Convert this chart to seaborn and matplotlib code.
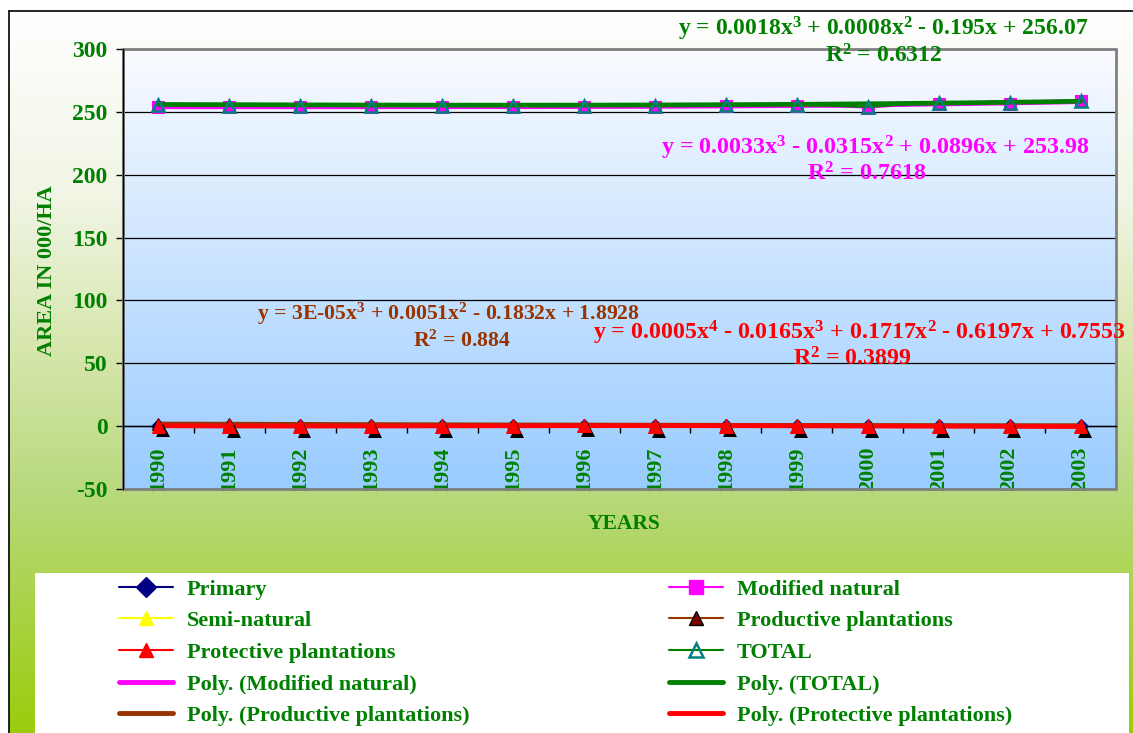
import numpy as np
import matplotlib
matplotlib.use("Agg")
import matplotlib.pyplot as plt
import matplotlib.patheffects as pe
from matplotlib.lines import Line2D
from matplotlib.patches import Rectangle
import seaborn as sns

# ---- data: forest area (000 ha) by category, 1990-2003 ----
years = [1990, 1991, 1992, 1993, 1994, 1995, 1996, 1997, 1998, 1999, 2000, 2001, 2002, 2003]
primary = [0.0, 0.0, 0.0, 0.0, 0.0, 0.0, 0.0, 0.0, 0.0, 0.0, 0.0, 0.0, 0.0, 0.0]
semi_natural = [0.0, 0.0, 0.0, 0.0, 0.0, 0.0, 0.0, 0.0, 0.0, 0.0, 0.0, 0.0, 0.0, 0.0]
modified_natural = [253.9, 254.0, 254.0, 254.0, 254.0, 254.1, 254.1, 254.2, 254.6, 254.8, 253.4, 256.6, 256.6, 258.3]
productive_plantations = [1.8, 1.5, 1.3, 1.1, 0.9, 0.8, 0.7, 0.6, 0.6, 0.5, 0.4, 0.5, 0.3, 0.4]
protective_plantations = [0.4, 0.0, 0.1, 0.0, 0.3, 0.2, 0.5, 0.3, 0.4, 0.1, 0.2, 0.1, -0.2, -0.2]
total = [255.4, 255.0, 254.8, 254.7, 254.6, 254.7, 254.8, 254.9, 255.2, 255.4, 253.8, 257.3, 256.9, 258.4]

# polynomial trendlines (highest power first) and their R^2
poly_modified = [0.0033, -0.0315, 0.0896, 253.98]
poly_total = [0.0018, 0.0008, -0.195, 256.07]
poly_productive = [3e-05, 0.0051, -0.1832, 1.8928]
poly_protective = [0.0005, -0.0165, 0.1717, -0.6197, 0.7553]
eq_modified = ["y = 0.0033x$^3$ - 0.0315x$^2$ + 0.0896x + 253.98", "R$^2$ = 0.7618"]
eq_total = ["y = 0.0018x$^3$ + 0.0008x$^2$ - 0.195x + 256.07", "R$^2$ = 0.6312"]
eq_productive = ["y = 3E-05x$^3$ + 0.0051x$^2$ - 0.1832x + 1.8928", "R$^2$ = 0.884"]
eq_protective = ["y = 0.0005x$^4$ - 0.0165x$^3$ + 0.1717x$^2$ - 0.6197x + 0.7553", "R$^2$ = 0.3899"]

GREEN = "#008000"
MAGENTA = "#FF00FF"
BROWN = "#993300"
RED = "#FF0000"
NAVY = "#000080"
YELLOW = "#FFFF00"
TEAL = "#008080"

sns.set_theme(style="white")
plt.rcParams["font.family"] = ["Liberation Serif", "DejaVu Serif"]
plt.rcParams["font.weight"] = "bold"
plt.rcParams["mathtext.default"] = "regular"
plt.rcParams["axes.unicode_minus"] = False

W, H = 1133, 733
fig = plt.figure(figsize=(W / 100, H / 100), dpi=100)
fig.patch.set_facecolor("white")


def fx(px):
    return px / W


def fy(py):
    return 1 - py / H


# ---- chart-area background (white to yellow-green) ----
bg = fig.add_axes([0, 0, 1, 1])
bg.set_zorder(-10)
bg.axis("off")
rows = np.arange(11, H + 1)
stops_y = [11, 200, 350, 490, 733]
stops_c = np.array([[255, 255, 255], [240, 245, 228], [214, 230, 172],
                    [185, 217, 126], [155, 204, 12]]) / 255.0
grad = np.stack([np.interp(rows, stops_y, stops_c[:, k]) for k in range(3)], axis=1)
bg.imshow(grad[:, None, :], extent=(9, W, H, 11), aspect="auto", interpolation="bilinear")
bg.plot([9, 9], [11, H], color="black", lw=1.2)
bg.plot([9, W], [11, 11], color="black", lw=1.2)
bg.add_patch(Rectangle((35, 573), 1129 - 35, H - 573, facecolor="white", edgecolor="none"))
bg.set_xlim(0, W)
bg.set_ylim(H, 0)

# ---- plot area ----
ax = fig.add_axes([fx(123), fy(489), (1116 - 123) / W, (489 - 49) / H])
pa = np.linspace(0, 1, 256)
top_c = np.array([250, 251, 255]) / 255.0
bot_c = np.array([153, 204, 255]) / 255.0
pgrad = top_c[None, :] * (1 - pa[:, None]) + bot_c[None, :] * pa[:, None]
ax.imshow(pgrad[:, None, :], extent=(0, 1, 0, 1), transform=ax.transAxes,
          aspect="auto", zorder=-1, interpolation="bilinear")

idx = np.arange(1, len(years) + 1)
xs = np.linspace(1, len(years), 400)

# zero-valued series underneath everything
sns.lineplot(x=idx, y=primary, ax=ax, color=NAVY, lw=1.2, marker="D", markersize=7,
             markerfacecolor=NAVY, markeredgecolor=NAVY, zorder=2.6)
sns.lineplot(x=idx, y=semi_natural, ax=ax, color=YELLOW, lw=1.2, marker="^", markersize=8,
             markerfacecolor=YELLOW, markeredgecolor=YELLOW, zorder=2.7)

# upper group: modified natural and total with their trendlines
sns.lineplot(x=xs, y=np.polyval(poly_modified, xs), ax=ax, color=MAGENTA, lw=3.4, zorder=4)
sns.lineplot(x=idx, y=modified_natural, ax=ax, color=MAGENTA, lw=1.2, marker="s", markersize=9,
             markerfacecolor=MAGENTA, markeredgecolor=MAGENTA, zorder=5)
sns.lineplot(x=xs, y=np.polyval(poly_total, xs), ax=ax, color=GREEN, lw=3.4, zorder=6)
sns.lineplot(x=idx, y=total, ax=ax, color=GREEN, lw=1.2, marker="^", markersize=9,
             markerfacecolor="none", markeredgecolor=TEAL, markeredgewidth=1.8, zorder=7)

# lower group: plantations with their trendlines
sns.lineplot(x=xs, y=np.polyval(poly_productive, xs), ax=ax, color=BROWN, lw=3.4, zorder=4)
sns.lineplot(x=idx, y=productive_plantations, ax=ax, color=BROWN, lw=1.2, marker="^", markersize=9,
             markerfacecolor="#800000", markeredgecolor="black", zorder=5)
sns.lineplot(x=idx, y=protective_plantations, ax=ax, color=RED, lw=1.2, zorder=5.5)
sns.lineplot(x=xs, y=np.polyval(poly_protective, xs), ax=ax, color=RED, lw=3.4, zorder=6)
sns.lineplot(x=idx, y=protective_plantations, ax=ax, color=RED, linestyle="none", marker="^",
             markersize=10, markerfacecolor=RED, markeredgecolor=RED, zorder=7)
ax.lines[-1].set_path_effects([
    pe.SimplePatchShadow(offset=(3, -3.5), shadow_rgbFace="black", alpha=1.0),
    pe.Normal(),
])

# axes, grid and ticks
ax.set_xlim(0.5, len(years) + 0.5)
ax.set_ylim(-50, 300)
ax.set_yticks(np.arange(-50, 301, 50))
ax.yaxis.grid(True, color="black", lw=0.9)
ax.xaxis.grid(False)
ax.set_axisbelow(True)
ax.tick_params(axis="y", which="major", direction="out", length=5, width=1, color="black",
               pad=6, labelsize=17, labelcolor=GREEN, left=True)
for t in ax.get_yticklabels():
    t.set_fontweight("bold")

ax.spines["bottom"].set_position(("data", 0))
for side in ["left", "bottom"]:
    ax.spines[side].set_color("black")
    ax.spines[side].set_linewidth(1.0)
for side in ["top", "right"]:
    ax.spines[side].set_visible(False)
ax.add_patch(Rectangle((0, 0), 1, 1, transform=ax.transAxes, fill=False,
                       edgecolor="#808080", lw=2.0, clip_on=False, zorder=2.4))

ax.set_xticks(np.arange(1.5, len(years), 1.0))
ax.set_xticklabels([])
ax.tick_params(axis="x", which="major", direction="out", length=5, width=1, color="black", bottom=True)
ax.set_xticks(idx, minor=True)
ax.set_xticklabels([str(y) for y in years], minor=True, rotation=90,
                   fontsize=16, color=GREEN, fontweight="bold")
ax.tick_params(axis="x", which="minor", length=0, pad=15)
ax.set_xlabel("")
ax.set_ylabel("")

# axis titles
fig.text(fx(47), fy(271), "AREA IN 000/HA", rotation=90, ha="center", va="center",
         fontsize=16, color=GREEN, fontweight="bold")
fig.text(fx(624), fy(524), "YEARS", ha="center", va="center",
         fontsize=15.5, color=GREEN, fontweight="bold")

# trendline equations
eq_style = dict(ha="center", va="center", fontweight="bold")
fig.text(fx(883), fy(29), eq_total[0], color=GREEN, fontsize=17, **eq_style)
fig.text(fx(884), fy(56), eq_total[1], color=GREEN, fontsize=17, **eq_style)
fig.text(fx(875), fy(148), eq_modified[0], color=MAGENTA, fontsize=17.3, **eq_style)
fig.text(fx(867), fy(174), eq_modified[1], color=MAGENTA, fontsize=17.3, **eq_style)
fig.text(fx(448), fy(314), eq_productive[0], color=BROWN, fontsize=15.7, **eq_style)
fig.text(fx(462), fy(341), eq_productive[1], color=BROWN, fontsize=15.7, **eq_style)
fig.text(fx(859), fy(333), eq_protective[0], color=RED, fontsize=17.2, **eq_style)
fig.text(fx(852), fy(359), eq_protective[1], color=RED, fontsize=17.2, **eq_style)

# legend in two columns
def series_handle(color, marker, mfc, mec, mew=1.0):
    return Line2D([], [], color=color, lw=1.5, marker=marker, markersize=10,
                  markerfacecolor=mfc, markeredgecolor=mec, markeredgewidth=mew)


def trend_handle(color):
    return Line2D([], [], color=color, lw=3.5)


left_items = [
    (series_handle(NAVY, "D", NAVY, NAVY), "Primary"),
    (series_handle(YELLOW, "^", YELLOW, YELLOW), "Semi-natural"),
    (series_handle(RED, "^", RED, RED), "Protective plantations"),
    (trend_handle(MAGENTA), "Poly. (Modified natural)"),
    (trend_handle(BROWN), "Poly. (Productive plantations)"),
]
right_items = [
    (series_handle(MAGENTA, "s", MAGENTA, MAGENTA), "Modified natural"),
    (series_handle(BROWN, "^", "#800000", "black"), "Productive plantations"),
    (series_handle(GREEN, "^", "none", TEAL, 1.8), "TOTAL"),
    (trend_handle(GREEN), "Poly. (TOTAL)"),
    (trend_handle(RED), "Poly. (Protective plantations)"),
]
leg_style = dict(loc="upper left", frameon=False, borderpad=0, borderaxespad=0,
                 handlelength=2.45, handletextpad=0.6, labelspacing=0.5,
                 labelcolor=GREEN, prop=dict(family="Liberation Serif", weight="bold", size=16))
for items, x0 in [(left_items, 119), (right_items, 669)]:
    fig.legend([h for h, _ in items], [l for _, l in items],
               bbox_to_anchor=(fx(x0), fy(579)), **leg_style)

fig.savefig("out.png", dpi=100)
